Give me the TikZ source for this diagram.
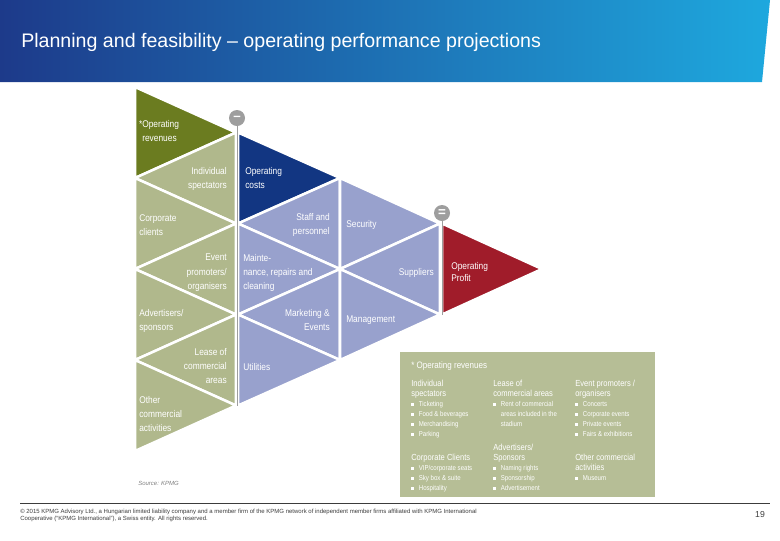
\documentclass[tikz,border=0pt]{standalone}
\usepackage{fontspec}
\setmainfont{Liberation Sans}
\newfontfamily\condfont[FakeStretch=0.86]{Liberation Sans}
\usepackage{tikz}

\definecolor{hdrdark}{RGB}{29,58,138}
\definecolor{hdrmid}{RGB}{30,92,168}
\definecolor{hdrlight}{RGB}{30,168,222}
\definecolor{revgreen}{RGB}{107,124,32}
\definecolor{sage}{RGB}{176,184,140}
\definecolor{boxsage}{RGB}{182,190,150}
\definecolor{costblue}{RGB}{18,54,130}
\definecolor{lilac}{RGB}{152,161,205}
\definecolor{profitred}{RGB}{160,28,42}
\definecolor{signgray}{RGB}{158,158,158}
\definecolor{footgray}{RGB}{60,60,60}

\tikzset{
  tri/.style={draw=white, line width=1.9pt, line join=round},
  lbl/.style={text=white, inner sep=0.75pt, font=\condfont\fontsize{7.3}{10.7}\selectfont},
  lblL/.style={lbl, anchor=north west, align=left},
  lblR/.style={lbl, anchor=north east, align=right},
  sign/.style={circle, fill=signgray, inner sep=0pt, minimum size=12pt, text=white, font=\bfseries\fontsize{10}{10}\selectfont},
  signline/.style={draw=signgray, line width=0.6pt},
  boxtxt/.style={text=white, inner sep=0.75pt, anchor=north west, align=left, font=\condfont\fontsize{6.6}{7.5}\selectfont},
}
\newcommand{\itm}[1]{{\fontsize{5.3}{7.5}\selectfont\raisebox{0.7pt}{\rule{1.7pt}{1.7pt}}\hspace{4pt}#1}}
\newcommand{\itmc}[1]{{\fontsize{5.3}{7.5}\selectfont\hspace*{5.7pt}#1}}

\begin{document}
\begin{tikzpicture}[x=0.75pt,y=0.75pt,yscale=-1,xscale=1]
%set diagram size 780 x 540
\useasboundingbox (0,0) rectangle (780,540);

%Shape: Header band
\shade [left color=hdrdark, middle color=hdrmid, right color=hdrlight] (0,0) -- (770,0) -- (762,82) -- (0,82) -- cycle ;
% Text Node
\draw (21,42) node (title) [anchor=west][inner sep=0pt][text=white, font=\fontsize{14.7}{17}\selectfont] {Planning and feasibility – operating performance projections};

%Shape: Triangle [revenues column]
\draw [tri, fill=revgreen] (135,87) -- (236,132.5) -- (135,178) -- cycle ;
\draw [tri, fill=sage] (236,132.5) -- (236,223.5) -- (135,178) -- cycle ;
\draw [tri, fill=sage] (135,178) -- (236,223.5) -- (135,269) -- cycle ;
\draw [tri, fill=sage] (236,223.5) -- (236,314.5) -- (135,269) -- cycle ;
\draw [tri, fill=sage] (135,269) -- (236,314.5) -- (135,360) -- cycle ;
\draw [tri, fill=sage] (236,314.5) -- (236,405.5) -- (135,360) -- cycle ;
\draw [tri, fill=sage] (135,360) -- (236,405.5) -- (135,451) -- cycle ;
%Shape: Triangle [costs column]
\draw [tri, fill=costblue] (238,132.5) -- (340,178) -- (238,223.5) -- cycle ;
\draw [tri, fill=lilac] (340,178) -- (340,269) -- (238,223.5) -- cycle ;
\draw [tri, fill=lilac] (238,223.5) -- (340,269) -- (238,314.5) -- cycle ;
\draw [tri, fill=lilac] (340,269) -- (340,360) -- (238,314.5) -- cycle ;
\draw [tri, fill=lilac] (238,314.5) -- (340,360) -- (238,405.5) -- cycle ;
%Shape: Triangle [second costs column]
\draw [tri, fill=lilac] (340,178) -- (440,223.5) -- (340,269) -- cycle ;
\draw [tri, fill=lilac] (440,223.5) -- (440,314.5) -- (340,269) -- cycle ;
\draw [tri, fill=lilac] (340,269) -- (440,314.5) -- (340,360) -- cycle ;
%Shape: Triangle [profit]
\draw [tri, fill=profitred] (442,223.5) -- (542,269) -- (442,314.5) -- cycle ;

%Minus and equals signs
\coordinate (minusend) at (237,405.5) ;
\coordinate (equalsend) at (442,314.5) ;
\node (minus) [sign] at (237,118) {–};
\node (equals) [sign] at (442,213) {=};
\draw [signline] (minus.south) -- (minusend) ;
\draw [signline] (equals.south) -- (equalsend) ;

% Text Node
\draw (141,119) node (oprev) [lblL] {\llap{*}Operating\\revenues};
% Text Node
\draw (228,166) node (spect) [lblR] {Individual\\spectators};
% Text Node
\draw (138,213) node (corp) [lblL] {Corporate\\clients};
% Text Node
\draw (228,253) node (event) [lblR] {Event\\promoters/\\organisers};
% Text Node
\draw (138,308) node (adv) [lblL] {Advertisers/\\sponsors};
% Text Node
\draw (228,347) node (lease) [lblR] {Lease of\\commercial\\areas};
% Text Node
\draw (138,395) node (other) [lblL] {Other\\commercial\\activities};
% Text Node
\draw (244,166) node (opcost) [lblL] {Operating\\costs};
% Text Node
\draw (331,212) node (staff) [lblR] {Staff and\\personnel};
% Text Node
\draw (242,253) node (maint) [lblL] {Mainte-\\nance, repairs and\\cleaning};
% Text Node
\draw (331,308) node (mkt) [lblR] {Marketing \&\\Events};
% Text Node
\draw (242,367) node (util) [lbl, anchor=west] {Utilities};
% Text Node
\draw (345,225) node (secur) [lbl, anchor=west] {Security};
% Text Node
\draw (435,273) node (suppl) [lbl, anchor=east] {Suppliers};
% Text Node
\draw (345,320) node (mgmt) [lbl, anchor=west] {Management};
% Text Node
\draw (450,261) node (profit) [lblL, font=\condfont\fontsize{7.3}{9}\selectfont] {Operating\\Profit};

% Text Node
\draw (137,483) node (source) [anchor=west][inner sep=0.75pt][text=gray, font=\itshape\fontsize{4.5}{5}\selectfont] {Source: KPMG};

%Shape: Rectangle [revenues box]
\draw [draw=none, fill=boxsage] (400,352) rectangle (655,497) ;
% Text Node
\draw (410,366) node (boxhead) [anchor=west][inner sep=0.75pt][text=white, font=\condfont\fontsize{7}{8}\selectfont] {* Operating revenues};
% Text Node
\draw (410,379) node (blkAa) [boxtxt] {Individual\\spectators\\\itm{Ticketing}\\\itm{Food \& beverages}\\\itm{Merchandising}\\\itm{Parking}};
% Text Node
\draw (410,453) node (blkAb) [boxtxt] {Corporate Clients\\\itm{VIP/corporate seats}\\\itm{Sky box \& suite}\\\itm{Hospitality}};
% Text Node
\draw (492,379) node (blkBa) [boxtxt] {Lease of\\commercial areas\\\itm{Rent of commercial}\\\itmc{areas included in the}\\\itmc{stadium}};
% Text Node
\draw (492,443) node (blkBb) [boxtxt] {Advertisers/\\Sponsors\\\itm{Naming rights}\\\itm{Sponsorship}\\\itm{Advertisement}};
% Text Node
\draw (574,379) node (blkCa) [boxtxt] {Event promoters /\\organisers\\\itm{Concerts}\\\itm{Corporate events}\\\itm{Private events}\\\itm{Fairs \& exhibitions}};
% Text Node
\draw (574,453) node (blkCb) [boxtxt] {Other commercial\\activities\\\itm{Museum}};

%Straight Lines [footer rule]
\draw [footgray, line width=0.6pt] (20,503) -- (770,503) ;
% Text Node
\draw (20,509) node (legal) [anchor=north west][inner sep=0pt][align=left, text=footgray, font=\fontsize{4.5}{5.4}\selectfont] {© 2015 KPMG Advisory Ltd., a Hungarian limited liability company and a member firm of the KPMG network of independent member firms affiliated with KPMG International\\Cooperative (“KPMG International”), a Swiss entity. All rights reserved.};
% Text Node
\draw (760,515) node (pagenum) [inner sep=0pt][text=footgray, font=\fontsize{6.5}{7}\selectfont] {19};

\end{tikzpicture}
\end{document}
